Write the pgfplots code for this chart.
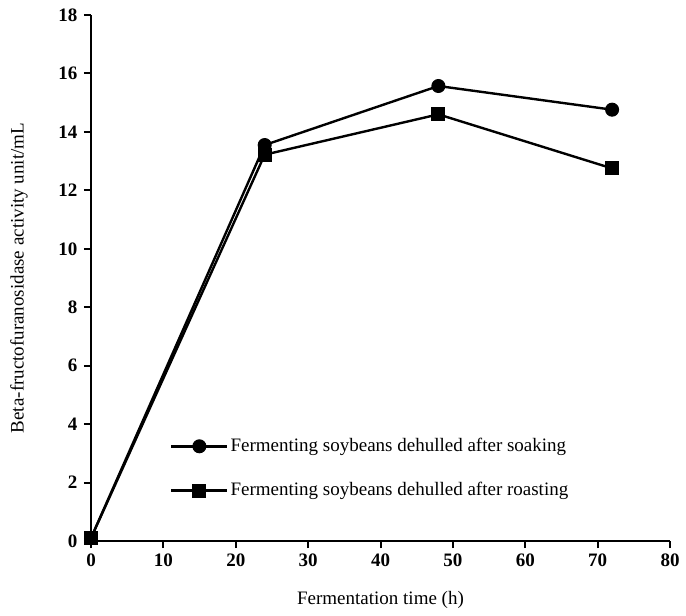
\documentclass[border=0pt]{standalone}
\usepackage{pgfplots}
\pgfplotsset{compat=1.18}
\usepackage{fontspec}
\setmainfont{Liberation Serif}
\begin{document}
\fontsize{19}{22}\selectfont
\begin{tikzpicture}
\begin{axis}[
  scale only axis, width=579pt, height=526pt,
  xmin=0, xmax=80, ymin=0, ymax=18,
  xtick={0,10,...,80}, ytick={0,2,...,18},
  axis x line*=bottom, axis y line*=left,
  axis line style={line width=2.6pt,-},
  tick align=outside, major tick length=7pt,
  tick style={line width=2pt, black},
  tick label style={font=\fontsize{19}{22}\selectfont\bfseries},
  xticklabel style={yshift=1pt},
  /pgf/number format/assume math mode=true,
  label style={font=\fontsize{19}{22}\selectfont},
  xlabel={Fermentation time (h)},
  ylabel={Beta-fructofuranosidase activity unit/mL},
  xlabel style={at={(axis description cs:0.5,-0.112)}, anchor=center},
  ylabel style={at={(axis description cs:-0.098,0.5)}, anchor=south},
  clip=false,
  legend cell align=left,
  legend style={draw=none, fill=none, inner sep=0pt, row sep=24pt,
    at={(rel axis cs:0.1364,0.138)}, anchor=west,
    font=\fontsize{19}{22}\selectfont},
  legend image code/.code={\draw[mark repeat=2,mark phase=2,#1] plot coordinates {(0pt,0pt)(28pt,0pt)(56pt,0pt)};},
]
\addplot[black, line width=2.4pt, mark=*, mark size=6.5pt, mark options={solid, fill=black, line width=1pt}]
  coordinates {(0,0.1) (24,13.55) (48,15.57) (72,14.76)};
\addlegendentry{Fermenting soybeans dehulled after soaking}
\addplot[black, line width=2.4pt, mark=square*, mark size=6.5pt, mark options={solid, fill=black, line width=1pt}]
  coordinates {(0,0.1) (24,13.22) (48,14.6) (72,12.75)};
\addlegendentry{Fermenting soybeans dehulled after roasting}
\end{axis}
\pgfresetboundingbox
\useasboundingbox ([shift={(-91pt,-74pt)}]current axis.south west) rectangle ([shift={(16pt,15pt)}]current axis.north east);
\end{tikzpicture}
\end{document}
